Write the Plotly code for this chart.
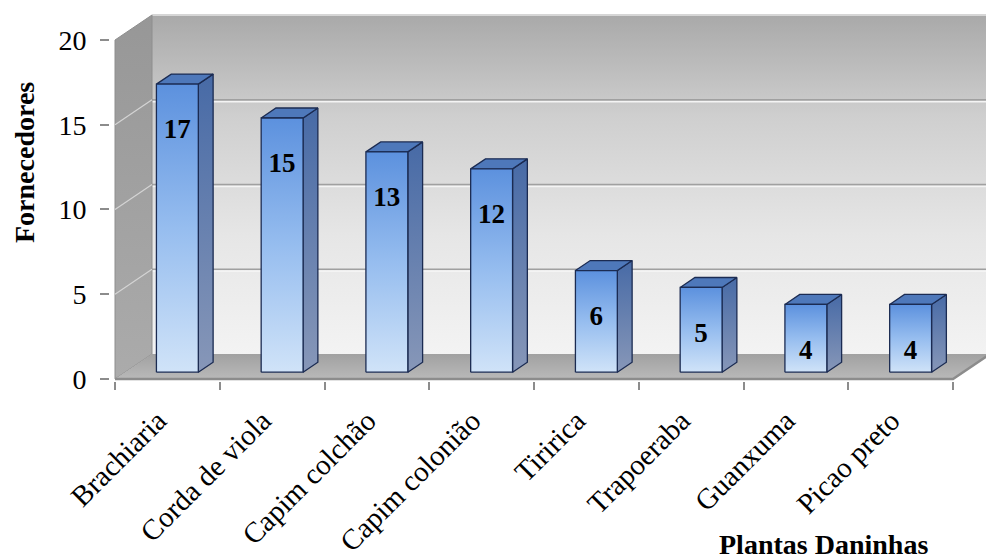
import plotly.graph_objects as go

# ---- data ---------------------------------------------------------------
categorias = ["Brachiaria", "Corda de viola", "Capim colchão", "Capim colonião",
              "Tiririca", "Trapoeraba", "Guanxuma", "Picao preto"]
fornecedores = [17, 15, 13, 12, 6, 5, 4, 4]
y_ticks = [0, 5, 10, 15, 20]
y_top = 20

# ---- 3D box geometry (axis units) ---------------------------------------
PX_X = 104.75            # pixels per category
PX_Y = 16.95             # pixels per unit of value
DX, DY = 37 / PX_X, 25 / PX_Y     # depth of the box
BAR_FRONT = 0.27         # bars stand this far into the box
BAR_DEPTH = 0.40         # bar depth as a share of the box depth
BAR_W = 0.40             # bar width in categories
LABEL_DROP = 2.8         # value labels sit this far below the bar top
LABEL_SHIFT = -0.09      # rotated category labels end slightly left of centre

FONT = "Liberation Serif"
n = len(categorias)

PLOT_L, PLOT_T = 110, 10
x_min = -(115 - PLOT_L) / PX_X
x_max = x_min + (986 - PLOT_L) / PX_X
y_min = -0.12
plot_h = 379 + y_min * -PX_Y - PLOT_T
y_max = y_min + plot_h / PX_Y


def paper_y(py):
    """Paper y for a pixel row of the page."""
    return (PLOT_T + plot_h - py) / plot_h


fig = go.Figure()


def poly(xs, ys, fill=None, grad=None, line_color="rgba(0,0,0,0)", lw=0):
    kw = dict(x=list(xs) + [xs[0]], y=list(ys) + [ys[0]], mode="lines",
              fill="toself", line=dict(color=line_color, width=lw),
              hoverinfo="skip", showlegend=False)
    if grad is not None:
        kw["fillgradient"] = grad
    else:
        kw["fillcolor"] = fill
    fig.add_trace(go.Scatter(**kw))


def vgrad(scale, start, stop):
    return dict(type="vertical", colorscale=scale, start=start, stop=stop)


# back wall
poly([DX, n + DX, n + DX, DX], [DY, DY, y_top + DY, y_top + DY],
     grad=vgrad([[0, "#f3f3f3"], [0.35, "#e6e6e6"], [0.7, "#cfcfcf"], [1, "#a9a9a9"]],
                DY, y_top + DY))

# back wall gridlines
gx, gy, hx, hy = [], [], [], []
for v in y_ticks[1:-1]:
    gx += [DX, n + DX, None]
    gy += [v + DY, v + DY, None]
    hx += [DX, n + DX, None]
    hy += [v + DY - 0.12, v + DY - 0.12, None]
fig.add_trace(go.Scatter(x=hx, y=hy, mode="lines", line=dict(color="#f4f4f4", width=1.5),
                         hoverinfo="skip", showlegend=False))
fig.add_trace(go.Scatter(x=gx, y=gy, mode="lines", line=dict(color="#a0a0a0", width=1.3),
                         hoverinfo="skip", showlegend=False))
# top rim of the back wall
fig.add_trace(go.Scatter(x=[DX, n + DX], y=[y_top + DY, y_top + DY], mode="lines",
                         line=dict(color="#d6d6d6", width=2),
                         hoverinfo="skip", showlegend=False))

# left side wall
poly([0, DX, DX, 0], [0, DY, y_top + DY, y_top],
     grad=vgrad([[0, "#ababab"], [1, "#979797"]], 0, y_top + DY),
     line_color="#8e8e8e", lw=1)
sx, sy = [], []
for v in y_ticks[1:-1]:
    sx += [0, DX, None]
    sy += [v, v + DY, None]
fig.add_trace(go.Scatter(x=sx, y=sy, mode="lines", line=dict(color="#d4d4d4", width=1.2),
                         hoverinfo="skip", showlegend=False))

# floor
poly([0, n, n + DX, DX], [0, 0, DY, DY],
     grad=vgrad([[0, "#b9b9b9"], [1, "#a1a1a1"]], 0, DY))
# front edge of the floor (category axis line)
fig.add_trace(go.Scatter(x=[0, n, n + DX], y=[0, 0, DY], mode="lines",
                         line=dict(color="#8c8c8c", width=2.5),
                         hoverinfo="skip", showlegend=False))

# bars
bdx, bdy = BAR_DEPTH * DX, BAR_DEPTH * DY
y0 = BAR_FRONT * DY
edge = "#1b2b52"
lab_x, lab_y = [], []
for i, v in enumerate(fornecedores):
    xl = i + 0.5 - BAR_W / 2 + BAR_FRONT * DX
    xr = xl + BAR_W
    yt = y0 + v
    # side face
    poly([xr, xr + bdx, xr + bdx, xr], [y0, y0 + bdy, yt + bdy, yt],
         grad=vgrad([[0, "#8797b8"], [1, "#476aa6"]], y0, yt + bdy),
         line_color=edge, lw=1.3)
    # top face
    poly([xl, xr, xr + bdx, xl + bdx], [yt, yt, yt + bdy, yt + bdy],
         fill="#4e78ba", line_color=edge, lw=1.3)
    # front face
    poly([xl, xr, xr, xl], [y0, y0, yt, yt],
         grad=vgrad([[0, "#d0e3f8"], [0.5, "#96bdef"], [1, "#5c91de"]], y0, yt),
         line_color=edge, lw=1.3)
    lab_x.append((xl + xr) / 2)
    lab_y.append(yt - LABEL_DROP)

fig.add_trace(go.Scatter(x=lab_x, y=lab_y, mode="text",
                         text=[str(v) for v in fornecedores],
                         textfont=dict(family=FONT, size=27, color="black", weight="bold"),
                         hoverinfo="skip", showlegend=False))

fig.update_layout(
    width=986, height=560,
    margin=dict(l=PLOT_L, r=0, t=PLOT_T, b=560 - PLOT_T - int(round(plot_h))),
    paper_bgcolor="white", plot_bgcolor="white",
    showlegend=False,
    font=dict(family=FONT, color="black"),
    xaxis=dict(
        range=[x_min, x_max], showgrid=False, zeroline=False, showline=False,
        tickmode="array", tickvals=[i + 0.5 + LABEL_SHIFT for i in range(n)],
        ticktext=categorias,
        tickangle=-45, ticks="", tickfont=dict(family=FONT, size=29, color="black"),
        ticklabelstandoff=16,
        minor=dict(tickmode="array", tickvals=list(range(n + 1)), ticks="outside",
                   ticklen=8, tickwidth=1.5, tickcolor="#8c8c8c", showgrid=False),
    ),
    yaxis=dict(
        range=[y_min, y_max], showgrid=False, zeroline=False, showline=False,
        tickmode="array", tickvals=y_ticks, ticks="outside", ticklen=9,
        tickwidth=1.5, tickcolor="#8c8c8c",
        tickfont=dict(family=FONT, size=28, color="black"), ticklabelstandoff=8,
    ),
    annotations=[
        dict(text="Fornecedores", xref="paper", yref="paper",
             x=(25 - PLOT_L) / (986 - PLOT_L), y=paper_y(163),
             textangle=-90, showarrow=False, xanchor="center", yanchor="middle",
             font=dict(family=FONT, size=28, color="black", weight="bold")),
        dict(text="Plantas Daninhas", xref="paper", yref="paper",
             x=(930 - PLOT_L) / (986 - PLOT_L), y=paper_y(545),
             showarrow=False, xanchor="right", yanchor="middle",
             font=dict(family=FONT, size=28, color="black", weight="bold")),
    ],
)

fig.write_html("out.html")
